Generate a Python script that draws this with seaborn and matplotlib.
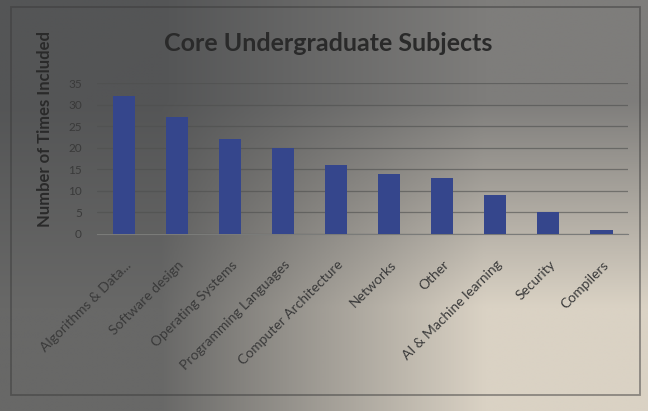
import matplotlib
matplotlib.use("Agg")
import matplotlib.pyplot as plt
import matplotlib.transforms as mtransforms
from matplotlib.patches import Rectangle
import seaborn as sns
import numpy as np
import pandas as pd

subjects = ["Algorithms & Data...", "Software design", "Operating Systems",
            "Programming Languages", "Computer Architecture", "Networks",
            "Other", "AI & Machine learning", "Security", "Compilers"]
counts = [32, 27, 22, 20, 16, 14, 13, 9, 5, 1]
yticks = [0, 5, 10, 15, 20, 25, 30, 35]

df = pd.DataFrame({"subject": subjects, "count": counts})

sns.set_style("white")
plt.rcParams["font.family"] = ["Lato", "DejaVu Sans"]

fig = plt.figure(figsize=(6.48, 4.11), dpi=100)

# photo-like lighting behind the chart
bg = fig.add_axes([0, 0, 1, 1], zorder=-1)
corners = np.array([[[84, 85, 86], [126, 125, 123]],
                    [[104, 104, 103], [218, 210, 196]]]) / 255.0
bg.imshow(corners, extent=[0, 1, 0, 1], aspect="auto", interpolation="bilinear",
          origin="upper")
bg.add_patch(Rectangle((11 / 648, 16 / 411), 629 / 648, 388 / 411, fill=False,
                       edgecolor="#3a3a3a", linewidth=1.3, alpha=0.5))
bg.set_xlim(0, 1)
bg.set_ylim(0, 1)
bg.axis("off")

ax = fig.add_axes([0.150, 0.431, 0.819, 0.367])
ax.patch.set_alpha(0)

sns.barplot(data=df, x="subject", y="count", color="#35468c", width=0.42,
            saturation=1, ax=ax, zorder=3, edgecolor="none", linewidth=0)

ax.set_ylim(0, 35)
ax.set_xlim(-0.5, len(subjects) - 0.5)
ax.set_yticks(yticks)
ax.yaxis.grid(True, color="#4e4f4e", linewidth=0.9, alpha=0.6, zorder=0)
for s in ["top", "right", "left"]:
    ax.spines[s].set_visible(False)
ax.spines["bottom"].set_color("#7a7b79")

ax.tick_params(axis="y", labelsize=8.5, colors="#3a3a3a", length=0, pad=11)
ax.tick_params(axis="x", length=0, pad=0)
ax.set_xticks(range(len(subjects)))
ax.set_xticklabels(subjects, rotation=45, ha="right", va="center",
                   rotation_mode="anchor", fontsize=10, color="#3a3a3a")
shift = mtransforms.ScaledTranslation(0.05, -0.29, fig.dpi_scale_trans)
for lab in ax.get_xticklabels():
    lab.set_transform(lab.get_transform() + shift)
ax.set_xlabel("")
ax.set_ylabel("")

fig.text(0.069, 0.686, "Number of Times Included", rotation=90, ha="center",
         va="center", fontsize=12, fontweight="bold", color="#2a2a2a")
fig.text(0.506, 0.895, "Core Undergraduate Subjects", ha="center", va="center",
         fontsize=18, fontweight="bold", color="#2a2a2a")

fig.savefig("out.png", dpi=100)
